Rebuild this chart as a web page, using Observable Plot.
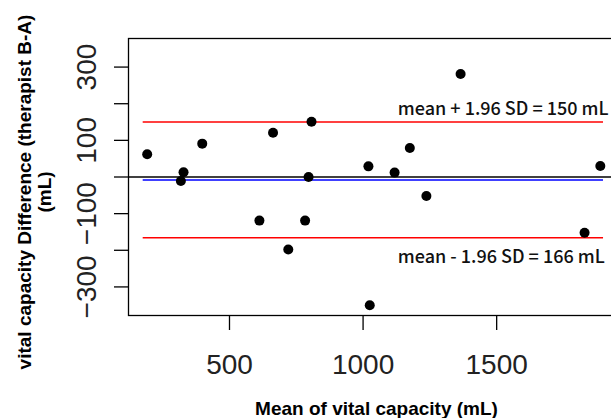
<!DOCTYPE html>
<html>
<head>
<meta charset="utf-8">
<script src="https://cdn.jsdelivr.net/npm/d3@7"></script>
<script src="https://cdn.jsdelivr.net/npm/@observablehq/plot@0.6"></script>
<style>
  html, body { margin: 0; padding: 0; background: white; overflow: hidden; }
</style>
</head>
<body>
<div id="chart"></div>
<script>
// ---- data ----
const meanVC = [192, 328, 318, 398, 612, 663, 720, 783, 796, 807, 1020, 1025, 1118, 1175, 1237, 1365, 1829, 1888];
const diffVC = [62, 13, -11, 91, -119, 121, -198, -119, 0, 151, 29, -350, 12, 79, -52, 281, -152, 30];
const meanDiff = -8;
const upperLoA = 150;
const lowerLoA = -166;
const lineStart = 177;
const lineEnd = 1900;
const labelX = 1130;
const upperLabel = "mean + 1.96 SD = 150 mL";
const lowerLabel = "mean - 1.96 SD = 166 mL";
const xTicks = [500, 1000, 1500];
const yTicks = [-300, -200, -100, 0, 100, 200, 300];
const yTickLabels = [300, 100, -100, -300];
const xTitle = "Mean of vital capacity (mL)";
const yTitle1 = "vital capacity Difference (therapist B-A)";
const yTitle2 = "(mL)";

const points = meanVC.map((x, i) => ({x, y: diffVC[i]}));
const segments = [
  {y: meanDiff, x1: lineStart, x2: lineEnd, c: "#0000ff"},
  {y: upperLoA, x1: lineStart, x2: lineEnd, c: "#ff0000"},
  {y: lowerLoA, x1: lineStart, x2: lineEnd, c: "#ff0000"}
];

const sans = "'Liberation Sans', Arial, sans-serif";
const cjk = "'Noto Sans CJK JP', sans-serif";
const fmt = d => d < 0 ? "\u2212" + Math.abs(d) : String(d);

const chart = Plot.plot({
  width: 611,
  height: 418,
  marginLeft: 128,
  marginTop: 38,
  marginBottom: 103,
  marginRight: -7,
  style: {fontFamily: sans, background: "white", color: "black"},
  x: {domain: [122, 1956]},
  y: {domain: [-378, 378]},
  marks: [
    Plot.axisX({ticks: xTicks, tickSize: 15, tickFormat: () => "", label: null, strokeWidth: 1.3}),
    Plot.axisY({ticks: yTicks, tickSize: 14, tickFormat: () => "", label: null, strokeWidth: 1.3}),
    Plot.text(xTicks, {x: d => d, frameAnchor: "bottom", lineAnchor: "middle", textAnchor: "middle", dy: 50, text: d => fmt(d), fontSize: 28, fill: "#222", ariaLabel: "narrowtick"}),
    Plot.text(yTickLabels, {y: d => d, frameAnchor: "left", lineAnchor: "middle", textAnchor: "middle", dx: -41, rotate: -90, text: d => fmt(d), fontSize: 28, fill: "#222", ariaLabel: "narrowtick"}),
    Plot.ruleY([0], {stroke: "black", strokeWidth: 1.3}),
    Plot.ruleY(segments, {y: "y", x1: "x1", x2: "x2", stroke: "c", strokeWidth: 1.5}),
    Plot.dot(points, {x: "x", y: "y", r: 5, fill: "black", stroke: null}),
    Plot.text([upperLabel], {x: labelX, y: upperLoA, text: d => d, dy: -12.7, textAnchor: "start", fontSize: 18, fontWeight: 500, fontFamily: cjk, fill: "#111", ariaLabel: "note"}),
    Plot.text([lowerLabel], {x: labelX, y: lowerLoA, text: d => d, dy: 19.5, textAnchor: "start", fontSize: 18, fontWeight: 500, fontFamily: cjk, fill: "#111", ariaLabel: "note"}),
    Plot.text([xTitle], {frameAnchor: "bottom", lineAnchor: "middle", textAnchor: "middle", dy: 93, dx: 3, text: d => d, fontSize: 19, fontWeight: "bold"}),
    Plot.text([yTitle1], {frameAnchor: "left", lineAnchor: "middle", textAnchor: "middle", dx: -104, dy: 15, rotate: -90, text: d => d, fontSize: 19, fontWeight: "bold"}),
    Plot.text([yTitle2], {frameAnchor: "left", lineAnchor: "middle", textAnchor: "middle", dx: -84, dy: 15, rotate: -90, text: d => d, fontSize: 19, fontWeight: "bold"}),
    Plot.frame({stroke: "black", strokeWidth: 1.3})
  ]
});
// condensed look of the tick numbers (narrow sans in the reference)
chart.querySelectorAll('g[aria-label="narrowtick"] text').forEach(t => {
  const tr = t.getAttribute("transform") || "";
  t.setAttribute("transform", tr + " scale(0.82,1)");
});
chart.querySelectorAll('g[aria-label="note"] text').forEach(t => {
  t.setAttribute("letter-spacing", "0.5");
});
document.getElementById("chart").appendChild(chart);
</script>
</body>
</html>
